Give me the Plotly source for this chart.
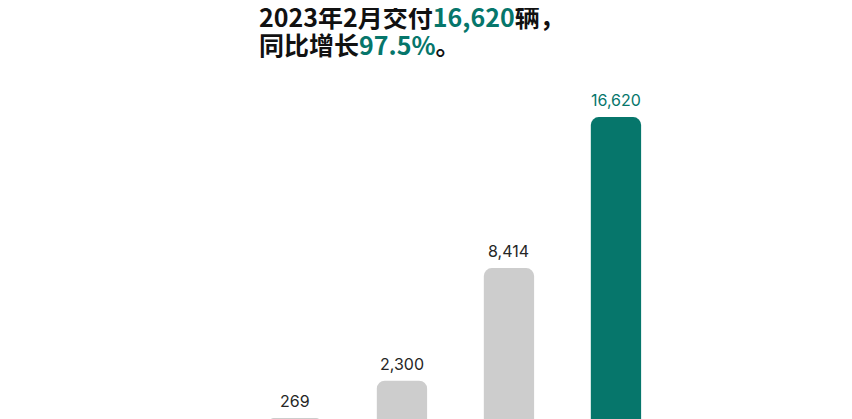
import plotly.graph_objects as go

# Li Auto February deliveries, year by year
months = ["2020年2月", "2021年2月", "2022年2月", "2023年2月"]
deliveries = [269, 2300, 8414, 16620]

TEAL = "#06766b"
GRAY = "#cdcdcd"

bar_colors = [GRAY, GRAY, GRAY, TEAL]
label_colors = ["#262626", "#262626", "#262626", TEAL]

fig = go.Figure()

fig.add_trace(
    go.Bar(
        x=months,
        y=deliveries,
        width=0.47,
        marker=dict(color=bar_colors, cornerradius=8, line=dict(width=0)),
        hoverinfo="skip",
    )
)

# value labels sitting a little above each bar
for m, v, c in zip(months, deliveries, label_colors):
    fig.add_annotation(
        x=m, y=v,
        xref="x", yref="y",
        text=f"{v:,}",
        showarrow=False,
        yanchor="bottom",
        yshift=5,
        font=dict(family="Inter, Noto Sans", size=16, color=c),
    )

# headline above the bars, one annotation per line for tighter spacing
title_font = dict(family="Noto Sans CJK SC", size=25, color="#111111", weight="bold")
title_lines = [
    f"2023年2月交付<span style='color:{TEAL}'>16,620</span>辆，",
    f"同比增长<span style='color:{TEAL}'>97.5%</span>。",
]
for i, line in enumerate(title_lines):
    fig.add_annotation(
        xref="paper", yref="paper",
        x=249 / 844, y=1,
        xanchor="left", yanchor="top",
        align="left",
        showarrow=False,
        yshift=12 - 28 * i,
        text=line,
        font=title_font,
    )

# the page body adds an 8px margin, so the figure is 8px smaller than the window
fig.update_layout(
    width=844,
    height=411,
    margin=dict(l=0, r=0, t=0, b=0),
    paper_bgcolor="white",
    plot_bgcolor="white",
    showlegend=False,
)

fig.update_xaxes(range=[-2.682, 5.206], visible=False)
fig.update_yaxes(range=[217, 22543], visible=False)

fig.write_html("out.html")
